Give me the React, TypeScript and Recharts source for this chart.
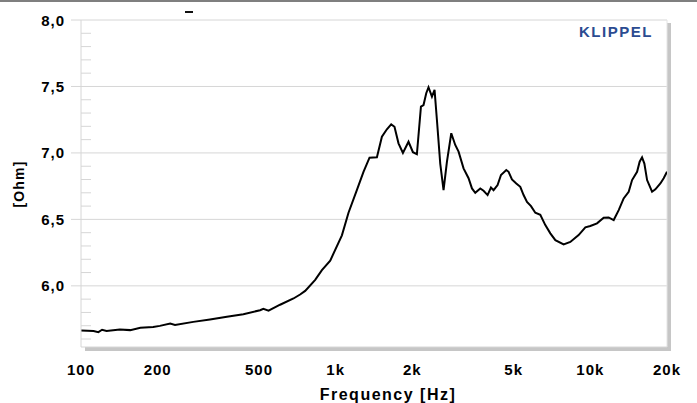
import React from 'react';
import { LineChart, Line, XAxis, YAxis, ReferenceLine } from 'recharts';

// impedance curve
const freqHz = [
  100, 112, 117, 121, 126, 142, 156, 171, 192, 204, 224, 234, 276, 321, 374, 434, 505, 520, 545, 605,
  683, 725, 759, 831, 883, 952, 1058, 1123, 1211, 1286, 1358, 1452, 1519, 1589, 1652, 1702, 1765, 1837,
  1932, 2011, 2084, 2162, 2213, 2268, 2315, 2388, 2445, 2498, 2574, 2652, 2735, 2844, 2948, 3038, 3178,
  3325, 3429, 3533, 3696, 3808, 3949, 4072, 4169, 4323, 4458, 4677, 4775, 4923, 5119, 5308, 5469, 5640,
  5848, 6080, 6361, 6656, 6965, 7288, 7855, 8344, 8995, 9559, 10000, 10624, 11280, 11800, 12350, 12925,
  13516, 14145, 14585, 15260, 15620, 15963, 16300, 16705, 17474, 18005, 18836, 19409, 20000,
];
const impedanceOhm = [
  5.664, 5.661, 5.652, 5.67, 5.66, 5.672, 5.667, 5.685, 5.691, 5.699, 5.716, 5.706, 5.729, 5.747, 5.767,
  5.787, 5.817, 5.828, 5.814, 5.858, 5.905, 5.935, 5.962, 6.045, 6.118, 6.19, 6.38, 6.55, 6.72, 6.858,
  6.964, 6.967, 7.122, 7.178, 7.215, 7.197, 7.072, 7.0, 7.084, 7.005, 6.99, 7.348, 7.36, 7.449, 7.494,
  7.423, 7.474, 7.248, 6.92, 6.72, 6.934, 7.148, 7.06, 7.01, 6.884, 6.81, 6.733, 6.7, 6.733, 6.715, 6.683,
  6.74, 6.72, 6.758, 6.834, 6.871, 6.858, 6.8, 6.77, 6.745, 6.683, 6.632, 6.6, 6.55, 6.535, 6.457, 6.395,
  6.344, 6.312, 6.33, 6.382, 6.44, 6.45, 6.47, 6.512, 6.515, 6.495, 6.57, 6.658, 6.708, 6.796, 6.858,
  6.934, 6.967, 6.92, 6.796, 6.708, 6.726, 6.77, 6.81, 6.858,
];

const xTicks = [100, 200, 500, 1000, 2000, 5000, 10000, 20000];
const xTickLabels = ['100', '200', '500', '1k', '2k', '5k', '10k', '20k'];
const yMajor = [6.0, 6.5, 7.0, 7.5, 8.0];
const yMajorLabels = ['6,0', '6,5', '7,0', '7,5', '8,0'];
const yMinor = [5.6, 5.7, 5.8, 5.9, 6.1, 6.2, 6.3, 6.4, 6.6, 6.7, 6.8, 6.9, 7.1, 7.2, 7.3, 7.4, 7.6, 7.7, 7.8, 7.9];

const data = freqHz.map((f, i) => ({ f, z: impedanceOhm[i] }));
const yTicks = [...yMinor, ...yMajor].sort((a, b) => a - b);

const FONT = '"Liberation Sans", Arial, sans-serif';
const PLOT_LEFT = 81;
const GRID = '#d6d6d6';

const YTick = (props: any) => {
  const { y, payload } = props;
  const idx = yMajor.indexOf(payload.value);
  if (idx < 0) {
    return <line x1={PLOT_LEFT} x2={PLOT_LEFT + 10} y1={y} y2={y} stroke={GRID} />;
  }
  return (
    <g>
      <line x1={PLOT_LEFT - 10} x2={PLOT_LEFT} y1={y} y2={y} stroke={GRID} />
      <text
        x={PLOT_LEFT - 16}
        y={y}
        textAnchor='end'
        dominantBaseline='central'
        fontFamily={FONT}
        fontWeight='bold'
        fontSize={15}
        style={{ letterSpacing: 1 }}
        fill='#000'
      >
        {yMajorLabels[idx]}
      </text>
    </g>
  );
};

const YTitle = () => (
  <text
    x={24}
    y={184}
    transform='rotate(-90, 24, 184)'
    textAnchor='middle'
    fontFamily={FONT}
    fontWeight='bold'
    fontSize={14}
    style={{ letterSpacing: 1.2 }}
    fill='#000'
  >
    [Ohm]
  </text>
);

const XTitle = () => (
  <text
    x={388}
    y={400}
    textAnchor='middle'
    fontFamily={FONT}
    fontWeight='bold'
    fontSize={16}
    style={{ letterSpacing: 1.5 }}
    fill='#000'
  >
    Frequency [Hz]
  </text>
);

export default function App() {
  return (
    <div style={{ position: 'absolute', left: 0, top: 0, width: 697, height: 403, background: '#fff' }}>
      <div style={{ position: 'absolute', left: 0, top: 0, width: 697, height: 2, background: '#7f7f7f' }} />
      <div style={{ position: 'absolute', left: 185, top: 11, width: 8, height: 2, background: '#111' }} />
      <div style={{ position: 'absolute', left: 667, top: 23, width: 4, height: 328, background: '#c6c6c6' }} />
      <div style={{ position: 'absolute', left: 85, top: 347, width: 586, height: 4, background: '#c6c6c6' }} />
      <LineChart
        width={697}
        height={403}
        data={data}
        margin={{ top: 20, right: 30, left: 0, bottom: 0 }}
        style={{ position: 'absolute', left: 0, top: 0 }}
      >
        <XAxis
          dataKey='f'
          type='number'
          scale='log'
          domain={[100, 20000]}
          ticks={xTicks}
          interval={0}
          allowDataOverflow
          height={56}
          tickFormatter={(v: number) => xTickLabels[xTicks.indexOf(v)]}
          tickLine={false}
          tickMargin={11}
          axisLine={{ stroke: GRID }}
          tick={{ fill: '#000', fontSize: 15, fontWeight: 'bold', fontFamily: FONT, style: { letterSpacing: 1 } }}
          label={<XTitle />}
        />
        <YAxis
          type='number'
          domain={[5.54, 8]}
          ticks={yTicks}
          interval={0}
          allowDataOverflow
          width={81}
          tickLine={false}
          axisLine={{ stroke: GRID }}
          tick={<YTick />}
          label={<YTitle />}
        />
        {yMajor.map((v) => (
          <ReferenceLine key={v} y={v} stroke={GRID} />
        ))}
        <ReferenceLine x={20000} stroke='#e4e4e4' />
        <Line
          type='linear'
          dataKey='z'
          stroke='#000'
          strokeWidth={2}
          dot={false}
          isAnimationActive={false}
        />
      </LineChart>
      <div
        style={{
          position: 'absolute',
          left: 579,
          top: 24,
          fontFamily: FONT,
          fontWeight: 'bold',
          fontSize: 15,
          lineHeight: '15px',
          letterSpacing: 1.5,
          color: '#2b4b91',
          whiteSpace: 'nowrap',
        }}
      >
        KLIPPEL
      </div>
    </div>
  );
}
